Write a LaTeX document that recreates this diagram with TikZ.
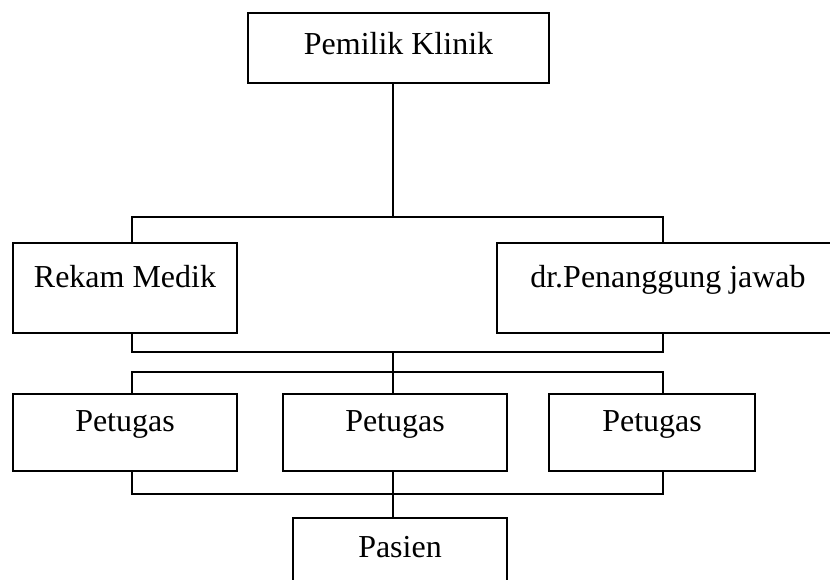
\documentclass[tikz,border=0pt]{standalone}
\usepackage{fontspec}
\setmainfont{Liberation Serif}
\usepackage{tikz}
\usetikzlibrary{positioning}

\begin{document}
\begin{tikzpicture}[
  x=0.02cm, y=-0.02cm,
  kotak/.style={
    rectangle, draw, line width=1.6pt, inner sep=0pt,
    text centered, font=\fontsize{18.2}{22}\selectfont
  },
  garis/.style={line width=1.6pt}
]
\clip (0,0) rectangle (830,579);

\node[kotak, minimum width=6.02cm, text height=0.82cm, text depth=0.58cm] (pemilik) at (398.5,48) {Pemilik Klinik};
\node[kotak, minimum width=4.48cm, text height=0.88cm, text depth=0.92cm] (rekam) at (125,288) {Rekam Medik};
\node[kotak, minimum width=6.84cm, text height=0.88cm, text depth=0.92cm] (dokter) at (668,288) {dr.Penanggung jawab};
\node[kotak, minimum width=4.48cm, text height=0.74cm, text depth=0.80cm] (petugasA) at (125,432.5) {Petugas};
\node[kotak, minimum width=4.48cm, text height=0.74cm, text depth=0.80cm] (petugasB) at (395,432.5) {Petugas};
\node[kotak, minimum width=4.12cm, text height=0.74cm, text depth=0.80cm] (petugasC) at (652,432.5) {Petugas};
\node[kotak, minimum width=4.28cm, text height=0.78cm, text depth=0.76cm] (pasien) at (400,556.5) {Pasien};

\coordinate (kiri) at (132,0);
\coordinate (tengah) at (393,0);
\coordinate (kanan) at (663,0);
\coordinate (busA) at (393,217);
\coordinate (busB) at (393,352);
\coordinate (busC) at (393,372);
\coordinate (busD) at (393,494);

\draw[garis] (pemilik.south -| tengah) -- (busA);
\draw[garis] (rekam.north -| kiri) |- (busA) -| (dokter.north -| kanan);
\draw[garis] (rekam.south -| kiri) |- (busB) -| (dokter.south -| kanan);
\draw[garis] (busB) -- (busC);
\draw[garis] (petugasA.north -| kiri) |- (busC) -| (petugasC.north -| kanan);
\draw[garis] (busC) -- (petugasB.north -| tengah);
\draw[garis] (petugasA.south -| kiri) |- (busD) -| (petugasC.south -| kanan);
\draw[garis] (petugasB.south -| tengah) -- (busD) -- (pasien.north -| tengah);

\end{tikzpicture}
\end{document}
